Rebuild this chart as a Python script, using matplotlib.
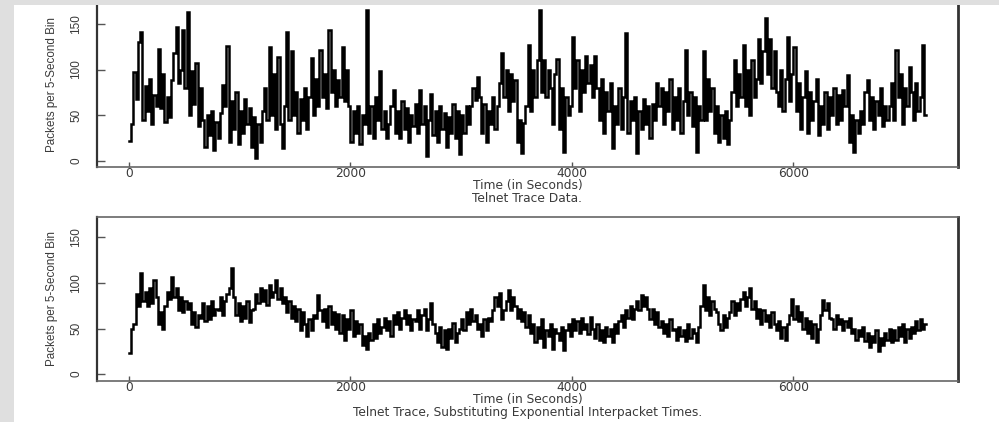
import numpy as np
import matplotlib
matplotlib.use("Agg")
import matplotlib.pyplot as plt
from matplotlib.patches import Rectangle

# ---------------- data (packets per bin) ----------------
trace_seconds = 7200
x_ticks = [0, 2000, 4000, 6000]
y_ticks = [0, 50, 100, 150]

telnet_counts = [
    22, 40, 97, 68, 130, 141, 45, 82, 55, 90, 40, 72, 60, 123, 58, 95, 42, 70, 48,
    88, 118, 147, 85, 100, 143, 80, 163, 50, 98, 62, 107, 38, 80, 45,
    15, 50, 28, 55, 12, 42, 25, 52, 83, 60, 126,
    20, 65, 35, 75, 18, 55, 30, 68, 40, 58,
    15, 48, 3, 40, 20, 55, 80, 45, 125, 50, 95, 35, 114, 40, 14,
    60, 141, 45, 120, 50, 75, 30, 68, 45, 80, 35, 70, 113, 50, 90,
    60, 121, 70, 95, 58, 143, 75, 100, 60, 89, 70, 125, 65, 100, 60,
    20, 55, 30, 60, 18, 50, 40, 165, 30, 60, 25, 70, 45, 98, 35, 55, 25,
    40, 60, 78, 30, 55, 25, 65, 35, 58, 20, 50, 38, 62, 30, 77, 40, 60, 5, 45, 73,
    28, 55, 20, 60, 35, 52, 15, 48, 30, 62, 25, 55, 7, 50, 30, 60, 40,
    60, 80, 66, 92, 70, 30, 62, 20, 55, 40, 70, 35,
    60, 85, 118, 70, 100, 55, 95, 65, 88, 20, 45, 8, 41,
    60, 127, 55, 100, 70, 110, 165, 75, 110, 70, 100, 80,
    40, 95, 112, 35, 80, 10, 70, 50,
    60, 136, 80, 110, 55, 100, 75, 115, 85, 105, 70, 115, 80,
    45, 90, 30, 75, 55, 85, 14, 60, 40, 80, 35, 70, 140,
    30, 65, 45, 70, 8, 55, 35, 68, 40, 60, 25, 62,
    45, 85, 60, 80, 40, 75, 55, 90,
    35, 70, 45, 80, 30, 65, 121, 50, 75, 38, 70, 10, 60, 45, 120,
    45, 90, 55, 80, 30, 60, 20, 50, 25, 55, 18, 45, 75, 110, 60, 95, 70,
    127, 60, 100, 50, 110, 70, 90, 134, 85, 120, 156, 95, 134, 80, 120, 75,
    60, 100, 55, 90, 136, 65, 95, 125, 55, 85,
    35, 70, 98, 30, 75, 45, 65, 90, 28, 60,
    40, 75, 35, 70, 50, 80, 40, 72, 45, 78, 60, 94, 20, 50, 10, 45, 30,
    55, 40, 75, 88, 45, 70, 35, 65, 50, 80, 38, 60, 45,
    60, 85, 45, 121, 70, 95, 40, 80, 60, 103, 75, 45, 85, 55, 70, 127, 50,
]

exponential_counts = [
    23, 50, 55, 88, 75, 111, 80, 90, 75, 95, 78, 103, 85, 55, 68, 50,
    75, 90, 82, 107, 85, 95, 70, 85, 68, 80, 72, 78, 55, 68, 52, 65,
    62, 78, 58, 75, 60, 80, 65, 72, 70, 85, 65, 80, 88, 95, 117, 85,
    65, 78, 58, 75, 62, 80, 57, 70,
    72, 88, 78, 95, 80, 92, 76, 98, 85, 90, 103, 82, 95, 78,
    85, 68, 80, 62, 75, 58, 72, 48, 68, 55, 42, 60, 48, 65, 62, 87, 70,
    58, 72, 52, 75, 55, 68, 50, 66, 45, 65, 38, 60, 50, 70, 42, 58, 45, 55,
    32, 42, 28, 45, 38, 55, 40, 60, 45, 52, 62, 48, 58, 42, 65,
    55, 68, 50, 62, 70, 55, 65, 48, 60, 58, 70, 50, 65, 72, 48, 60, 78, 55,
    45, 35, 52, 30, 48, 28, 50, 40, 56, 35, 45, 50,
    60, 48, 68, 55, 72, 58, 65, 50, 55, 42, 60, 48, 62, 58,
    70, 85, 75, 89, 60, 70, 80, 92, 70, 85, 75, 62, 72, 58, 68, 52, 65,
    45, 55, 35, 52, 40, 60, 30, 48, 42, 55, 28, 50, 45, 38, 52, 26, 48,
    55, 42, 60, 48, 58, 45, 62, 50, 55, 44, 63,
    50, 40, 55, 38, 48, 35, 52, 42, 50, 35, 55, 45,
    58, 65, 52, 70, 62, 75, 60, 72, 80, 70, 87, 75, 85, 72,
    60, 72, 55, 68, 52, 58, 45, 55, 42, 60, 48,
    50, 38, 52, 42, 48, 36, 55, 40, 50, 45, 35, 52, 75, 98,
    70, 85, 65, 80, 72, 68, 55, 48, 65, 52, 62,
    68, 80, 65, 78, 70, 82, 90, 75, 85, 95, 72,
    80, 62, 72, 55, 70, 58, 65, 52, 68, 55, 48, 58, 40, 52, 38, 55,
    65, 82, 60, 75, 58, 68, 50, 62, 45, 58, 40, 55, 35, 50,
    65, 81, 70, 78, 62, 60, 50, 65, 55, 60, 48, 58, 52, 62, 45,
    50, 38, 48, 42, 52, 36, 45, 30, 42, 35, 48, 25, 40, 32, 45, 38, 50, 35,
    48, 38, 52, 42, 55, 35, 50, 40, 52, 45, 58, 48, 60, 50, 55,
]

x_label = "Time (in Seconds)"
y_label = "Packets per 5-Second Bin"
titles = ["Telnet Trace Data.",
          "Telnet Trace, Substituting Exponential Interpacket Times."]

# ---------------- figure ----------------
W, H = 999, 422
fig = plt.figure(figsize=(W / 100, H / 100), dpi=100, facecolor="white")

left_px, right_px = 97, 958
panel_h_px = 164
panel_bottoms_px = [167, 380.5]

text_col = "#3a3a3a"
tick_col = "#555555"
hfont = ["DejaVu Sans"]
yfont = ["Liberation Sans", "DejaVu Sans"]


def step_xy(counts):
    n = len(counts)
    t = np.arange(n + 1) * (trace_seconds / n)
    v = list(counts) + [counts[-1]]
    return t, v


for series, title, bpx in zip([telnet_counts, exponential_counts], titles, panel_bottoms_px):
    ax = fig.add_axes([left_px / W, 1 - bpx / H, (right_px - left_px) / W, panel_h_px / H])
    t, v = step_xy(series)
    ax.plot(t, v, drawstyle="steps-post", color="black", lw=1.8, solid_joinstyle="miter")
    ax.set_xlim(-289, 7486)
    ax.set_ylim(-7, 173)
    ax.set_xticks(x_ticks)
    ax.set_yticks(y_ticks)
    ax.set_xticklabels([str(x) for x in x_ticks], family=hfont, fontsize=8.8, color=text_col)
    ax.set_yticklabels([str(y) for y in y_ticks], family=["Liberation Sans"], fontsize=8.5,
                       color=text_col, rotation=90, va="center", ha="right")
    ax.tick_params(axis="x", direction="in", length=3.5, width=1, color=tick_col, pad=0.3)
    ax.tick_params(axis="y", direction="in", length=5.5, width=1, color=tick_col, pad=10.5)
    for side in ["top", "bottom"]:
        ax.spines[side].set_color("#666666")
        ax.spines[side].set_linewidth(1.2)
    ax.spines["left"].set_color("#333333")
    ax.spines["left"].set_linewidth(1.6)
    ax.spines["right"].set_color("#333333")
    ax.spines["right"].set_linewidth(2.0)

    ax.set_xlabel(x_label, family=hfont, fontsize=8.8, color=text_col)
    ax.xaxis.set_label_coords(0.5, -18.5 / panel_h_px)
    ax.xaxis.label.set_va("center")
    ax.set_ylabel(y_label, family=yfont, fontsize=8.4, color=text_col)
    ax.yaxis.set_label_coords((58 - left_px) / (right_px - left_px), 0.5)
    ttl = ax.set_title(title, family=hfont, fontsize=8.8, color=text_col,
                       y=-31.8 / panel_h_px, pad=0)
    ttl.set_va("center")

# light gray frame strips (left and top), as in the scan
gray = "#dfdfdf"
fig.add_artist(Rectangle((0, 0), 14 / W, 1, transform=fig.transFigure,
                         facecolor=gray, edgecolor="none", zorder=20))
fig.add_artist(Rectangle((0, 1 - 5 / H), 1, 5 / H, transform=fig.transFigure,
                         facecolor=gray, edgecolor="none", zorder=20))

fig.savefig("out.png", dpi=100, facecolor="white")
